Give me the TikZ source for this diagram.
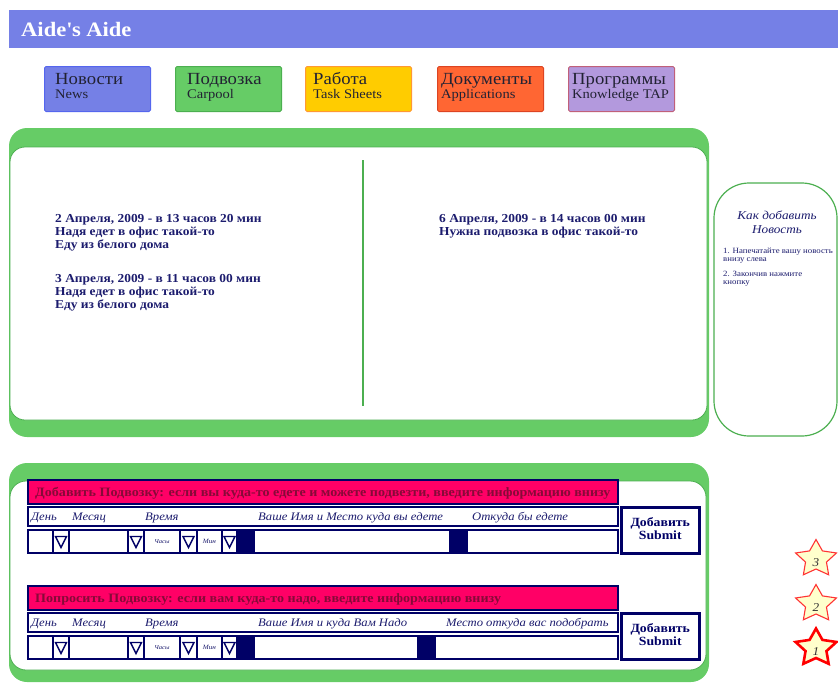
\documentclass[tikz,border=0pt]{standalone}
\usepackage{fontspec}
\setmainfont{Liberation Serif}[FakeStretch=1.1]
\newcommand\setfs[2]{\fontsize{#1}{#2}\selectfont}

\definecolor{barblue}{HTML}{7580E6}
\definecolor{tabblueline}{HTML}{5566EE}
\definecolor{leaf}{HTML}{66CC66}
\definecolor{leafline}{HTML}{4CAF50}
\definecolor{sun}{HTML}{FFCC00}
\definecolor{sunline}{HTML}{FF9933}
\definecolor{tomato}{HTML}{FF6633}
\definecolor{tomatoline}{HTML}{DD4422}
\definecolor{lilac}{HTML}{B399DD}
\definecolor{lilacline}{HTML}{C0607A}
\definecolor{navy}{HTML}{000066}
\definecolor{inkblue}{HTML}{1C1C6E}
\definecolor{hotpink}{HTML}{FF0066}
\definecolor{maroon}{HTML}{860A38}
\definecolor{tabink}{HTML}{222233}
\definecolor{cream}{HTML}{FFFFCC}
\definecolor{starred}{HTML}{FF3333}

\tikzset{
  navybox/.style={draw=navy, line width=2pt, inner sep=0pt, anchor=north west},
  tab/.style={line width=1pt, rounded corners=1.5pt, minimum width=106pt,
    minimum height=45pt, inner sep=0pt, anchor=north west},
  tabru/.style={anchor=base west, inner sep=0pt, text=tabink, font=\setfs{17}{17}},
  taben/.style={anchor=base west, inner sep=0pt, text=tabink, font=\setfs{13.2}{14}},
  newsline/.style={anchor=base west, inner sep=0pt, text=inkblue,
    font=\bfseries\setfs{12.2}{13}},
  headtext/.style={anchor=base west, inner sep=0pt, text=maroon,
    font=\bfseries\setfs{12.8}{13}},
  lbl/.style={anchor=base west, inner sep=0pt, text=inkblue,
    font=\itshape\setfs{11.5}{12}},
  tiny/.style={inner sep=0pt, text=inkblue, font=\itshape\setfs{6}{6}},
  subtext/.style={inner sep=0pt, text=navy, align=center,
    font=\bfseries\setfs{12.5}{13}},
  sidehead/.style={inner sep=0pt, anchor=base, text=inkblue,
    font=\itshape\setfs{12}{12}},
  sideitem/.style={inner sep=0pt, anchor=base west, text=inkblue,
    font=\setfs{8}{8}},
  dropmark/.style={draw=navy, line width=1.4pt, line join=miter},
  starline/.style={draw=starred, fill=cream, line width=1.1pt, line join=miter},
  starbold/.style={draw=red, fill=cream, line width=2.6pt, line join=miter},
  starnum/.style={inner sep=0pt, text=black!80, font=\itshape\setfs{12}{12}},
}

% downward triangle inside a select cell
\newcommand\dropin[1]{%
  \draw[dropmark] ([shift={(-5.5pt,5pt)}]#1.center) -- ([shift={(5.5pt,5pt)}]#1.center)
    -- ([shift={(0pt,-6pt)}]#1.center) -- cycle;}

% five-pointed star around a centre
\newcommand\starat[3]{%
  \draw[#3] (#1,#2) +(90:21.5pt and 19.5pt) -- +(126:11pt and 10pt) -- +(162:21.5pt and 19.5pt)
    -- +(198:11pt and 10pt) -- +(234:21.5pt and 19.5pt) -- +(270:11pt and 10pt)
    -- +(306:21.5pt and 19.5pt) -- +(342:11pt and 10pt) -- +(18:21.5pt and 19.5pt)
    -- +(54:11pt and 10pt) -- cycle;}

% one ride form: prefix, vertical offset, banner, 4th label, 5th label x, 5th label, 2nd dark block x
\newcommand\rideform[7]{%
  \begin{scope}[shift={(0,#2)}]
    \node[navybox, fill=hotpink, minimum width=590pt, minimum height=24pt] (#1head) at (27,479) {};
    \node[headtext] (#1headtxt) at (35,496) {#3};
    \node[navybox, fill=white, minimum width=590pt, minimum height=19pt] (#1labels) at (27,506) {};
    \node[lbl] (#1day) at (31,520) {День};
    \node[lbl] (#1month) at (72,520) {Месяц};
    \node[lbl] (#1time) at (145,520) {Время};
    \node[lbl] (#1who) at (258,520) {#4};
    \node[lbl] (#1from) at (#5,520) {#6};
    \node[navybox, fill=white, minimum width=590pt, minimum height=23pt] (#1row) at (27,529) {};
    \node[navybox, minimum width=25pt, minimum height=23pt] (#1dayin) at (27,529) {};
    \node[navybox, minimum width=16pt, minimum height=23pt] (#1ta) at (52,529) {};
    \node[navybox, minimum width=59pt, minimum height=23pt] (#1mon) at (68,529) {};
    \node[navybox, minimum width=16pt, minimum height=23pt] (#1tb) at (127,529) {};
    \node[navybox, minimum width=36pt, minimum height=23pt] (#1hrs) at (143,529) {};
    \node[navybox, minimum width=17pt, minimum height=23pt] (#1tc) at (179,529) {};
    \node[navybox, minimum width=25pt, minimum height=23pt] (#1min) at (196,529) {};
    \node[navybox, minimum width=15pt, minimum height=23pt] (#1td) at (221,529) {};
    \node[navybox, fill=navy, minimum width=17pt, minimum height=23pt] (#1na) at (236,529) {};
    \node[navybox, fill=navy, minimum width=17pt, minimum height=23pt] (#1nb) at (#7,529) {};
    \node[tiny] (#1hrstxt) at (#1hrs.center) {Часы};
    \node[tiny, font=\itshape\setfs{6.5}{6.5}] (#1mintxt) at (#1min.center) {Мин};
    \dropin{#1ta}\dropin{#1tb}\dropin{#1tc}\dropin{#1td}
    \node[navybox, line width=2.5pt, fill=white, minimum width=78pt, minimum height=46pt] (#1submit) at (620,506) {};
    \node[subtext] (#1subtxt) at ([yshift=1.5pt]#1submit.center) {Добавить\\Submit};
  \end{scope}}

\begin{document}
\begin{tikzpicture}[x=1pt, y=-1pt]
  \useasboundingbox (0,0) rectangle (838,683);
  \clip (0,0) rectangle (838,683);

  % title bar
  \fill[barblue] (9,10) rectangle (838,48);
  \node[anchor=base west, inner sep=0pt, text=white, font=\bfseries\setfs{20.5}{21}] (title) at (21,36) {Aide\textquotesingle s Aide};

  % section tabs
  \node[tab, fill=barblue, draw=tabblueline] (news) at (44,66) {};
  \node[tabru] (newsru) at (55,84) {Новости};
  \node[taben] (newsen) at (55,98) {News};
  \node[tab, fill=leaf, draw=leafline] (carpool) at (175,66) {};
  \node[tabru] (carpoolru) at (187,84) {Подвозка};
  \node[taben] (carpoolen) at (187,98) {Carpool};
  \node[tab, fill=sun, draw=sunline] (work) at (305,66) {};
  \node[tabru] (workru) at (313,84) {Работа};
  \node[taben] (worken) at (313,98) {Task Sheets};
  \node[tab, fill=tomato, draw=tomatoline] (docs) at (437,66) {};
  \node[tabru] (docsru) at (441,84) {Документы};
  \node[taben] (docsen) at (441,98) {Applications};
  \node[tab, fill=lilac, draw=lilacline] (progs) at (568,66) {};
  \node[tabru] (progsru) at (572,84) {Программы};
  \node[taben] (progsen) at (572,98) {Knowledge TAP};

  % news panel
  \fill[leaf, rounded corners=18pt] (9,128) rectangle (709,437);
  \draw[leafline, line width=0.8pt, fill=white, rounded corners=15pt] (10,147) rectangle (707,420);
  \draw[leafline, line width=1.6pt] (363,160) -- (363,406);
  \node[newsline] (a1) at (55,222) {2 Апреля, 2009 - в 13 часов 20 мин};
  \node[newsline] (a2) at (55,235) {Надя едет в офис такой-то};
  \node[newsline] (a3) at (55,248) {Еду из белого дома};
  \node[newsline] (b1) at (55,282) {3 Апреля, 2009 - в 11 часов 00 мин};
  \node[newsline] (b2) at (55,295) {Надя едет в офис такой-то};
  \node[newsline] (b3) at (55,308) {Еду из белого дома};
  \node[newsline] (c1) at (439,222) {6 Апреля, 2009 - в 14 часов 00 мин};
  \node[newsline] (c2) at (439,235) {Нужна подвозка в офис такой-то};

  % help sidebar
  \draw[leafline, line width=1.2pt, fill=white, rounded corners=35pt] (714,183) rectangle (837,436);
  \node[sidehead] (helpa) at (777,219) {Как добавить};
  \node[sidehead] (helpb) at (777,233) {Новость};
  \node[sideitem] (h1) at (723,253) {1. Напечатайте вашу новость};
  \node[sideitem] (h2) at (723,261) {внизу слева};
  \node[sideitem] (h3) at (723,276) {2. Закончив нажмите};
  \node[sideitem] (h4) at (723,284) {кнопку};

  % ride forms panel
  \fill[leaf, rounded corners=18pt] (9,463) rectangle (709,682);
  \draw[leafline, line width=0.8pt, fill=white, rounded corners=16pt] (10,481) rectangle (706,670);
  \rideform{f}{0}{Добавить Подвозку: если вы куда-то едете и можете подвезти, введите информацию внизу}%
    {Ваше Имя и Место куда вы едете}{472}{Откуда бы едете}{449}
  \rideform{g}{106}{Попросить Подвозку: если вам куда-то надо, введите информацию внизу}%
    {Ваше Имя и куда Вам Надо}{446}{Место откуда вас подобрать}{417}

  % rating stars
  \starat{816}{559}{starline}
  \node[starnum] (s3) at (816,563) {3};
  \starat{816}{604}{starline}
  \node[starnum] (s2) at (816,608) {2};
  \starat{816}{648}{starbold}
  \node[starnum] (s1) at (816,652) {1};
\end{tikzpicture}
\end{document}
